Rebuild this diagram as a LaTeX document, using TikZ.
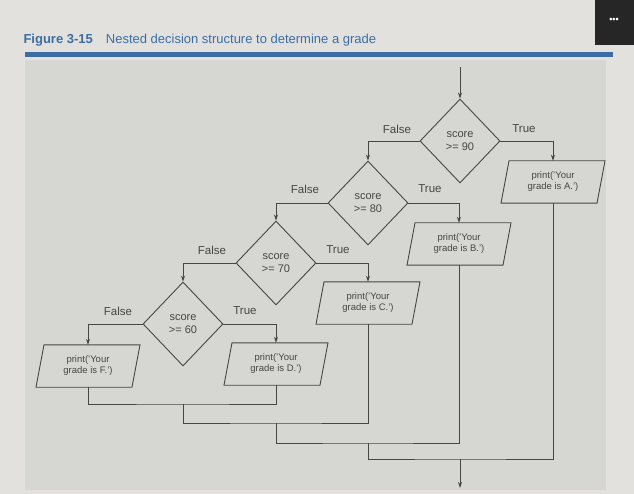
\documentclass[tikz,border=0pt]{standalone}
\usepackage{fontspec}
\setmainfont{Liberation Sans}
\usetikzlibrary{shapes.geometric,arrows.meta}
\definecolor{bg}{RGB}{226,225,221}
\definecolor{panel}{RGB}{214,214,210}
\definecolor{ttl}{RGB}{60,110,165}
\definecolor{ink}{RGB}{70,70,68}
\begin{document}
\begin{tikzpicture}[x=1pt,y=-1pt,
  dec/.style={diamond,draw=ink,line width=0.9pt,minimum width=80pt,minimum height=84pt,aspect=0.95,inner sep=0pt,align=center,font=\fontsize{11}{13}\selectfont,text=ink},
  outbox/.style={minimum height=42pt,minimum width=90pt,inner sep=0pt,align=center,font=\fontsize{9.5}{11}\selectfont,text=ink},
  lbl/.style={font=\fontsize{11.5}{13}\selectfont,text=ink},
  ln/.style={draw=ink,line width=0.9pt},
  arr/.style={ln,-{Stealth[length=6pt,width=4pt]}}]
\useasboundingbox (0,0) rectangle (634,494);
\fill[bg] (0,0) rectangle (634,494);
\fill[panel] (25,60) rectangle (606,490);
\fill[black!85] (595,0) rectangle (634,45);
\node[text=white,font=\bfseries\small] (dots) at (614,20) {•••};
\node[anchor=west,text=ttl,font=\fontsize{13}{15}\selectfont] (title) at (20,40) {\textbf{Figure 3-15}\quad Nested decision structure to determine a grade};
\fill[ttl] (25,52) rectangle (613,57);
% decisions
\node[dec] (d90) at (460,141) {score\\>= 90};
\node[dec] (d80) at (368,203) {score\\>= 80};
\node[dec] (d70) at (276,263) {score\\>= 70};
\node[dec] (d60) at (183,324) {score\\>= 60};
% outputs
\node[outbox] (pa) at (553,182) {print('Your\\grade is A.')};
\node[outbox] (pb) at (459,244) {print('Your\\grade is B.')};
\node[outbox] (pc) at (368,303) {print('Your\\grade is C.')};
\node[outbox] (pd) at (276,364) {print('Your\\grade is D.')};
\node[outbox] (pf) at (88,366) {print('Your\\grade is F.')};
\foreach \n in {pa,pb,pc,pd,pf}{
  \draw[ln] ([xshift=-52pt]\n.south) -- ([xshift=-44pt]\n.north) -- ([xshift=52pt]\n.north) -- ([xshift=44pt]\n.south) -- cycle;}
% labels
\node[lbl] (f90) at (397,129) {False}; \node[lbl] (t90) at (524,129) {True};
\node[lbl] (f80) at (305,189) {False}; \node[lbl] (t80) at (430,189) {True};
\node[lbl] (f70) at (212,250) {False}; \node[lbl] (t70) at (338,250) {True};
\node[lbl] (f60) at (118,311) {False}; \node[lbl] (t60) at (245,311) {True};
% entry
\coordinate (in) at (460,67);
\draw[arr] (in) -- (d90.north);
\draw[arr] (d90.west) -| (d80.north);
\draw[arr] (d90.east) -| (pa.north);
\draw[arr] (d80.west) -| (d70.north);
\draw[arr] (d80.east) -| (pb.north);
\draw[arr] (d70.west) -| (d60.north);
\draw[arr] (d70.east) -| (pc.north);
\draw[arr] (d60.west) -| (pf.north);
\draw[arr] (d60.east) -| (pd.north);
% merges
\coordinate (m1) at (183,404);
\coordinate (m2) at (276,423);
\coordinate (m3) at (368,443);
\coordinate (m4) at (460,459);
\coordinate (out) at (460,488);
\draw[ln] (pf.south) |- (m1) -| (pd.south);
\draw[ln] (m1) |- (m2) -| (pc.south);
\draw[ln] (m2) |- (m3) -| (pb.south);
\draw[ln] (m3) |- (m4) -| (pa.south);
\draw[arr] (m4) -- (out);
\end{tikzpicture}
\end{document}
